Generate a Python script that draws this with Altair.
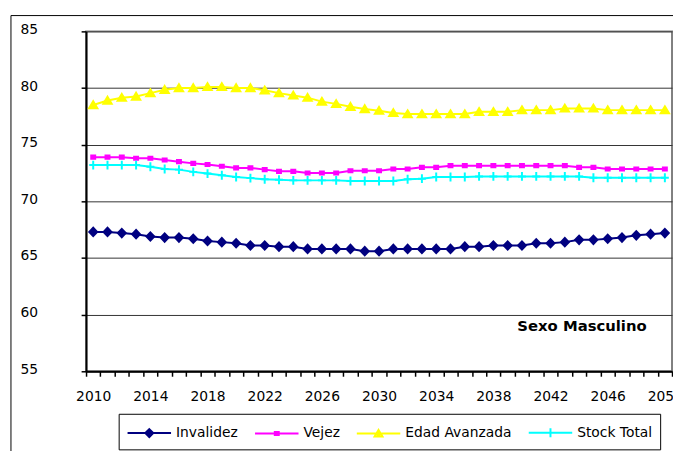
import altair as alt
import pandas as pd

# ---------------- data ----------------
years = list(range(2010, 2051))

invalidez = [67.3, 67.3, 67.2, 67.1, 66.9, 66.8, 66.8, 66.7, 66.5, 66.4,
             66.3, 66.1, 66.1, 66.0, 66.0, 65.8, 65.8, 65.8, 65.8, 65.6,
             65.6, 65.8, 65.8, 65.8, 65.8, 65.8, 66.0, 66.0, 66.1, 66.1,
             66.1, 66.3, 66.3, 66.4, 66.6, 66.6, 66.7, 66.8, 67.0, 67.1, 67.2]

vejez = [73.9, 73.9, 73.9, 73.8, 73.8, 73.65, 73.5, 73.35, 73.25, 73.1,
         72.95, 72.95, 72.8, 72.65, 72.65, 72.5, 72.5, 72.5, 72.7, 72.7,
         72.7, 72.85, 72.85, 73.0, 73.0, 73.15, 73.15, 73.15, 73.15, 73.15,
         73.15, 73.15, 73.15, 73.15, 73.0, 73.0, 72.85, 72.85, 72.85, 72.85, 72.85]

edad_avanzada = [78.5, 78.9, 79.15, 79.25, 79.55, 79.85, 80.0, 80.0, 80.1, 80.1,
                 80.0, 80.0, 79.8, 79.55, 79.35, 79.15, 78.8, 78.6, 78.35, 78.15,
                 78.0, 77.8, 77.7, 77.7, 77.7, 77.7, 77.7, 77.9, 77.9, 77.9,
                 78.05, 78.05, 78.05, 78.2, 78.2, 78.2, 78.05, 78.05, 78.05, 78.05, 78.05]

stock_total = [73.2, 73.2, 73.2, 73.2, 73.05, 72.85, 72.8, 72.6, 72.45, 72.3,
               72.15, 72.05, 71.95, 71.9, 71.85, 71.85, 71.85, 71.85, 71.8, 71.8,
               71.8, 71.8, 71.95, 72.0, 72.15, 72.15, 72.15, 72.2, 72.2, 72.2,
               72.2, 72.2, 72.2, 72.2, 72.2, 72.08, 72.08, 72.08, 72.08, 72.08, 72.08]

series_names = ["Invalidez", "Vejez", "Edad Avanzada", "Stock Total"]
series_values = [invalidez, vejez, edad_avanzada, stock_total]
series_colors = ["#000080", "#FF00FF", "#FFFF00", "#00FFFF"]

# marker outlines (unit coordinates of a Vega symbol)
marker_shapes = [
    "M0,-0.42L0.4,0L0,0.42L-0.4,0Z",          # diamond
    "M-0.2,-0.16H0.2V0.16H-0.2Z",              # small square
    "M0,-0.38L0.42,0.32L-0.42,0.32Z",          # triangle
    "M-0.4,0H0.4M0,-0.45V0.45",                # plus
]
# legend keys (stroked only): a line segment with the marker in its middle
legend_shapes = [
    "M-1,0H3.4M1.2,-0.4L1.6,0L1.2,0.4L0.8,0ZM1.2,-0.3V0.3",
    "M-1,0H3.4M1,-0.15H1.4V0.15H1Z",
    "M-1,0H3.4M1.2,-0.36L1.6,0.3L0.8,0.3ZM1.2,-0.22V0.3M1.02,0.15H1.38",
    "M-1,0H3.4M1.2,-0.45V0.45",
]

y_ticks = [55, 60, 65, 70, 75, 80, 85]
x_label_years = [2010, 2014, 2018, 2022, 2026, 2030, 2034, 2038, 2042, 2046, 2050]

annotation_text = ["Sexo Masculino"]
annotation_year = [2044.2]
annotation_value = [59.0]

FONT = "DejaVu Sans"

rows = []
for name, vals in zip(series_names, series_values):
    for yr, v in zip(years, vals):
        rows.append({"serie": name, "year": yr, "value": v})
df = pd.DataFrame(rows)

# ---------------- encodings ----------------
x_tick_values = [y - 0.5 for y in years] + [years[-1] + 0.5]
x_axis = alt.Axis(
    values=x_tick_values,
    labelExpr="indexof(" + str(x_label_years) + ", datum.value + 0.5) >= 0 ? toString(datum.value + 0.5) : ''",
    labelOffset=7.23, labelOverlap=False, labelFlush=False,
    tickSize=5, tickWidth=1.5, tickColor="black",
    domainColor="black", domainWidth=2, grid=False,
    labelFont=FONT, labelFontSize=14, labelColor="black", labelPadding=14,
    title=None,
)
y_axis = alt.Axis(
    values=y_ticks, grid=True, gridColor="#333333", gridWidth=1,
    tickSize=5, tickWidth=1.5, tickColor="black",
    domainColor="black", domainWidth=2, labelOffset=-2,
    labelFont=FONT, labelFontSize=14, labelColor="black", labelPadding=44,
    title=None,
)
x_enc = alt.X("year:Q", scale=alt.Scale(domain=[2009.5, 2050.5], nice=False, zero=False), axis=x_axis)
y_enc = alt.Y("value:Q", scale=alt.Scale(domain=[55, 85], nice=False, zero=False), axis=y_axis)

legend = alt.Legend(
    orient="none", legendX=33, legendY=387, direction="horizontal", title=None,
    symbolSize=400, symbolStrokeWidth=2, symbolOpacity=1, labelOffset=28,
    columnPadding=13, padding=8, strokeColor="black",
    labelFont=FONT, labelFontSize=14, labelLimit=0, labelColor="black",
)

base = alt.Chart(df)

frame = alt.Chart(pd.DataFrame({"a": [0]})).mark_rect(
    fill="transparent", stroke="black", strokeWidth=1
).encode(x=alt.value(-76), x2=alt.value(700), y=alt.value(-16), y2=alt.value(500))

lines = base.mark_line(strokeWidth=2).encode(
    x=x_enc, y=y_enc,
    stroke=alt.Stroke("serie:N", scale=alt.Scale(domain=series_names, range=series_colors), legend=None),
)

points = base.mark_point(size=400, strokeWidth=2, opacity=1).encode(
    x=x_enc, y=y_enc,
    shape=alt.Shape("serie:N", scale=alt.Scale(domain=series_names, range=marker_shapes), legend=None),
    fill=alt.Fill("serie:N", scale=alt.Scale(domain=series_names, range=series_colors), legend=None),
    stroke=alt.Stroke("serie:N", scale=alt.Scale(domain=series_names, range=series_colors), legend=None),
)

# legend-only layer (no rows drawn) giving line + marker keys
legend_layer = base.transform_filter("false").mark_point(
    size=400, strokeWidth=2, opacity=1, filled=False
).encode(
    x=x_enc, y=y_enc,
    shape=alt.Shape("serie:N", scale=alt.Scale(domain=series_names, range=legend_shapes), legend=legend),
    color=alt.Color("serie:N", scale=alt.Scale(domain=series_names, range=series_colors), legend=legend),
)

annot_df = pd.DataFrame({"label": annotation_text, "year": annotation_year, "value": annotation_value})
annot = alt.Chart(annot_df).mark_text(
    font=FONT, fontWeight="bold", fontSize=15, align="center", baseline="middle", color="black"
).encode(x=x_enc, y=y_enc, text="label:N")

chart = alt.layer(frame, lines, points, legend_layer, annot).resolve_scale(
    shape="independent", color="independent"
).properties(
    width=593, height=344,
    autosize=alt.AutoSizeParams(type="none"),
    padding={"left": 79, "top": 21, "right": 1, "bottom": 78},
    background="white",
).configure_view(stroke="#808080", strokeWidth=2)

chart.save("out.html", embed_options={"renderer": "svg", "actions": False})
